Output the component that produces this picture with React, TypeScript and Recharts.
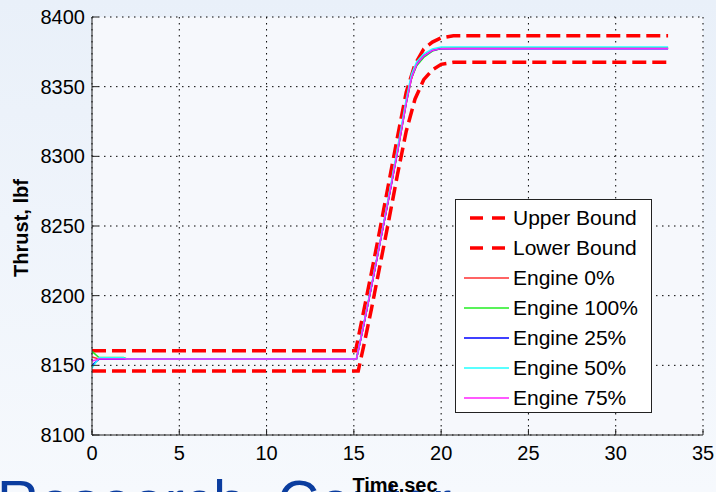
import { CartesianGrid, Legend, Line, LineChart, XAxis, YAxis } from 'recharts'

const xTicks = [0, 5, 10, 15, 20, 25, 30, 35]
const yTicks = [8100, 8150, 8200, 8250, 8300, 8350, 8400]

// bounds
const upperTime = [0, 15.1, 15.5, 16, 16.5, 17, 17.5, 18, 18.5, 19, 19.5, 20, 20.7, 33]
const upperBound = [8160.5, 8160.5, 8185, 8216, 8248, 8281, 8314, 8346, 8366, 8377, 8382, 8385, 8386.5, 8386.5]
const lowerTime = [0, 15.25, 15.6, 16, 16.5, 17, 17.5, 18, 18.5, 19, 19.5, 20, 20.7, 33]
const lowerBound = [8146, 8146, 8166, 8190, 8222, 8254, 8287, 8318, 8341, 8355, 8362, 8366, 8367.5, 8367.5]

// engine runs, all sampled on the same times
const engineTime = [0, 0.4, 1.8, 2, 15.15, 15.5, 16, 16.5, 17, 17.5, 18, 18.3, 18.6, 19, 19.5, 20, 21, 33]
const engine0 = [8156, 8154.6, 8154.6, 8154.6, 8154.6, 8175, 8206, 8238, 8270, 8303, 8338, 8356, 8366, 8372, 8376, 8377.8, 8378, 8378]
const engine100 = [8160, 8155.6, 8155.6, 8154.6, 8154.6, 8175, 8206, 8238, 8270, 8303, 8338, 8356, 8365, 8371, 8375.5, 8377.3, 8377.5, 8377.5]
const engine25 = [8150, 8154.4, 8154.4, 8154.6, 8154.6, 8175, 8206, 8238, 8270, 8304, 8339, 8357, 8366, 8372, 8376, 8377.3, 8377.3, 8377.3]
const engine50 = [8148, 8155.4, 8155.4, 8154.6, 8154.6, 8176, 8207, 8239, 8272, 8306, 8341, 8359, 8368, 8373.5, 8377, 8378.5, 8378.5, 8378.5]
const engine75 = [8153, 8154.6, 8154.6, 8154.6, 8154.6, 8175, 8206, 8238, 8270, 8303, 8338, 8356, 8366, 8372, 8376, 8377.3, 8377.4, 8377.4]

const toPoints = (ts: number[], vs: number[]) => ts.map((t, i) => ({ t, v: vs[i] }))

const series = [
  { name: 'Upper Bound', color: '#ff0000', dashed: true, data: toPoints(upperTime, upperBound) },
  { name: 'Lower Bound', color: '#ff0000', dashed: true, data: toPoints(lowerTime, lowerBound) },
  { name: 'Engine 0%', color: '#ff3030', dashed: false, data: toPoints(engineTime, engine0) },
  { name: 'Engine 100%', color: '#22ee22', dashed: false, data: toPoints(engineTime, engine100) },
  { name: 'Engine 25%', color: '#0000ff', dashed: false, data: toPoints(engineTime, engine25) },
  { name: 'Engine 50%', color: '#22ffff', dashed: false, data: toPoints(engineTime, engine50) },
  { name: 'Engine 75%', color: '#ff22ff', dashed: false, data: toPoints(engineTime, engine75) },
]

const font = '"Liberation Sans", Arial, Helvetica, sans-serif'
const pageBg = '#eff4fb'

function LegendBox() {
  return (
    <div
      style={{
        boxSizing: 'border-box',
        width: 197,
        height: 214,
        border: '1.5px solid #222',
        background: '#ffffff',
        paddingTop: 3,
        fontFamily: font,
        fontSize: 21,
        color: '#000',
      }}
    >
      {series.map((s) => (
        <div key={s.name} style={{ display: 'flex', alignItems: 'center', height: 30 }}>
          <svg width={56} height={30} style={{ flex: 'none' }}>
            {s.dashed ? (
              <line x1={14} y1={15} x2={49} y2={15} stroke={s.color} strokeWidth={3.5} strokeDasharray="13 9" />
            ) : (
              <line x1={8} y1={15} x2={53} y2={15} stroke={s.color} strokeWidth={1.5} />
            )}
          </svg>
          <span style={{ marginLeft: 1, whiteSpace: 'nowrap' }}>{s.name}</span>
        </div>
      ))}
    </div>
  )
}

export default function App() {
  return (
    <div
      style={{
        position: 'absolute',
        left: 0,
        top: 0,
        width: 716,
        height: 492,
        overflow: 'hidden',
        background: `linear-gradient(180deg, #e9f0f9 0%, ${pageBg} 45%, #f6f9fd 100%)`,
      }}
    >
      <svg width={716} height={492} style={{ position: 'absolute', left: 0, top: 0 }}>
        <text x={-3} y={521} fontFamily={font} fontSize={58} fill="#0b3d9f" wordSpacing={16}>
          Research Center
        </text>
      </svg>
      <div style={{ position: 'absolute', left: 0, top: 0 }}>
        <LineChart width={716} height={492} margin={{ top: 17, right: 13, bottom: 0, left: 0 }}>
          <CartesianGrid stroke="#000" strokeDasharray="1.5 4.5" fill="#f6f8fc" />
          <XAxis
            dataKey="t"
            type="number"
            domain={[0, 35]}
            ticks={xTicks}
            height={57}
            allowDataOverflow
            stroke="#222"
            tickSize={-6}
            tickMargin={17}
            tick={{ fill: '#000', fontSize: 20, fontFamily: font }}
            label={() => (
              <text x={395} y={492} textAnchor="middle" fontFamily={font} fontSize={20} fontWeight="bold" fill="#000">
                Time,sec
              </text>
            )}
          />
          <XAxis
            xAxisId="top"
            orientation="top"
            type="number"
            domain={[0, 35]}
            ticks={xTicks}
            height={0}
            stroke="#222"
            tickSize={-6}
            tick={false}
          />
          <YAxis
            type="number"
            domain={[8100, 8400]}
            ticks={yTicks}
            width={92}
            allowDataOverflow
            stroke="#222"
            tickSize={-6}
            tickMargin={13}
            tick={{ fill: '#000', fontSize: 20, fontFamily: font }}
            label={() => (
              <text
                x={28}
                y={228}
                textAnchor="middle"
                transform="rotate(-90, 28, 228)"
                fontFamily={font}
                fontSize={20}
                fontWeight="bold"
                fill="#000"
              >
                Thrust, lbf
              </text>
            )}
          />
          <YAxis
            yAxisId="right"
            orientation="right"
            type="number"
            domain={[8100, 8400]}
            ticks={yTicks}
            width={0}
            stroke="#222"
            tickSize={-6}
            tick={false}
          />
          <Legend
            layout="vertical"
            align="center"
            verticalAlign="middle"
            wrapperStyle={{ left: 455, top: 199, width: 197, height: 214 }}
            content={() => <LegendBox />}
          />
          {series.map((s) => (
            <Line
              key={s.name}
              name={s.name}
              data={s.data}
              dataKey="v"
              type="linear"
              stroke={s.color}
              strokeWidth={s.dashed ? 3.5 : 1.5}
              strokeDasharray={s.dashed ? '14 6' : undefined}
              dot={false}
              activeDot={false}
              isAnimationActive={false}
            />
          ))}
        </LineChart>
      </div>
    </div>
  )
}
